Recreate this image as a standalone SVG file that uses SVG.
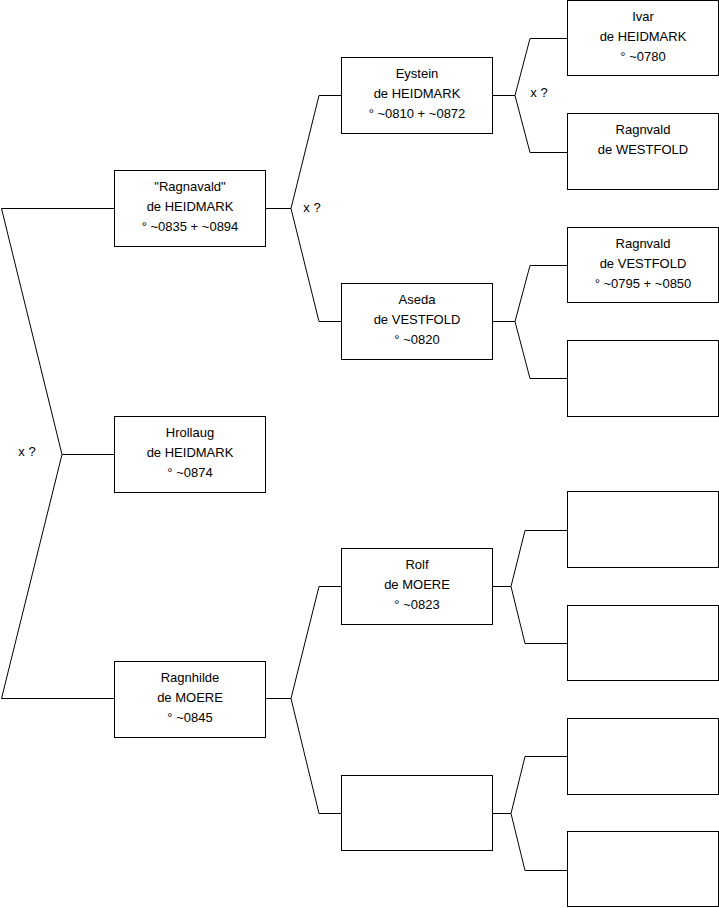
<svg xmlns="http://www.w3.org/2000/svg" width="719" height="908" viewBox="0 0 719 908">
<style>
.box{fill:#fff;stroke:#000;stroke-width:1}
.c{fill:none;stroke:#000;stroke-width:1}
text{font-family:"Liberation Sans",Arial,sans-serif;font-size:13px;fill:#000;text-anchor:middle}
</style>
<rect width="719" height="908" fill="#fff"/>
<g id="connectors">
<polyline class="c" points="114,208.5 1.5,208.5 62,454.5 1.5,698.5 114,698.5"/>
<line class="c" x1="62" y1="454.5" x2="114" y2="454.5"/>
<polyline class="c" points="265,208.5 291,208.5 319,95.5 341,95.5"/>
<polyline class="c" points="291,208.5 319,321.5 341,321.5"/>
<polyline class="c" points="265,698.5 291,698.5 319,586.5 341,586.5"/>
<polyline class="c" points="291,698.5 319,813.5 341,813.5"/>
<polyline class="c" points="492,95.5 515,95.5 530,38.5 567,38.5"/>
<polyline class="c" points="515,95.5 530,152.5 567,152.5"/>
<polyline class="c" points="492,321.5 515,321.5 530,265.5 567,265.5"/>
<polyline class="c" points="515,321.5 530,378.5 567,378.5"/>
<polyline class="c" points="492,586.5 511,586.5 525,530.5 567,530.5"/>
<polyline class="c" points="511,586.5 525,643.5 567,643.5"/>
<polyline class="c" points="492,813.5 511,813.5 525,756.5 567,756.5"/>
<polyline class="c" points="511,813.5 525,870.5 567,870.5"/>
<text x="27" y="456">x ?</text>
<text x="312" y="212">x ?</text>
<text x="539" y="97">x ?</text>
</g>
<g id="ragnavald"><rect class="box" x="114.5" y="170.5" width="151" height="76"/>
<text x="190" y="191">"Ragnavald"</text><text x="190" y="211">de HEIDMARK</text><text x="190" y="231">° ~0835 + ~0894</text></g>
<g id="hrollaug"><rect class="box" x="114.5" y="416.5" width="151" height="76"/>
<text x="190" y="437">Hrollaug</text><text x="190" y="457">de HEIDMARK</text><text x="190" y="477">° ~0874</text></g>
<g id="ragnhilde"><rect class="box" x="114.5" y="661.5" width="151" height="76"/>
<text x="190" y="682">Ragnhilde</text><text x="190" y="702">de MOERE</text><text x="190" y="722">° ~0845</text></g>
<g id="eystein"><rect class="box" x="341.5" y="57.5" width="151" height="76"/>
<text x="417" y="78">Eystein</text><text x="417" y="98">de HEIDMARK</text><text x="417" y="118">° ~0810 + ~0872</text></g>
<g id="aseda"><rect class="box" x="341.5" y="283.5" width="151" height="76"/>
<text x="417" y="304">Aseda</text><text x="417" y="324">de VESTFOLD</text><text x="417" y="344">° ~0820</text></g>
<g id="rolf"><rect class="box" x="341.5" y="548.5" width="151" height="76"/>
<text x="417" y="569">Rolf</text><text x="417" y="589">de MOERE</text><text x="417" y="609">° ~0823</text></g>
<g id="empty2"><rect class="box" x="341.5" y="775.5" width="151" height="75"/></g>
<g id="ivar"><rect class="box" x="567.5" y="0.5" width="151" height="75"/>
<text x="643" y="21">Ivar</text><text x="643" y="41">de HEIDMARK</text><text x="643" y="61">° ~0780</text></g>
<g id="ragnvald-westfold"><rect class="box" x="567.5" y="113.5" width="151" height="76"/>
<text x="643" y="134">Ragnvald</text><text x="643" y="154">de WESTFOLD</text></g>
<g id="ragnvald-vestfold"><rect class="box" x="567.5" y="227.5" width="151" height="75"/>
<text x="643" y="248">Ragnvald</text><text x="643" y="268">de VESTFOLD</text><text x="643" y="288">° ~0795 + ~0850</text></g>
<g id="empty3a"><rect class="box" x="567.5" y="340.5" width="151" height="76"/></g>
<g id="empty3b"><rect class="box" x="567.5" y="491.5" width="151" height="76"/></g>
<g id="empty3c"><rect class="box" x="567.5" y="605.5" width="151" height="75"/></g>
<g id="empty3d"><rect class="box" x="567.5" y="718.5" width="151" height="76"/></g>
<g id="empty3e"><rect class="box" x="567.5" y="831.5" width="151" height="75"/></g>
</svg>
